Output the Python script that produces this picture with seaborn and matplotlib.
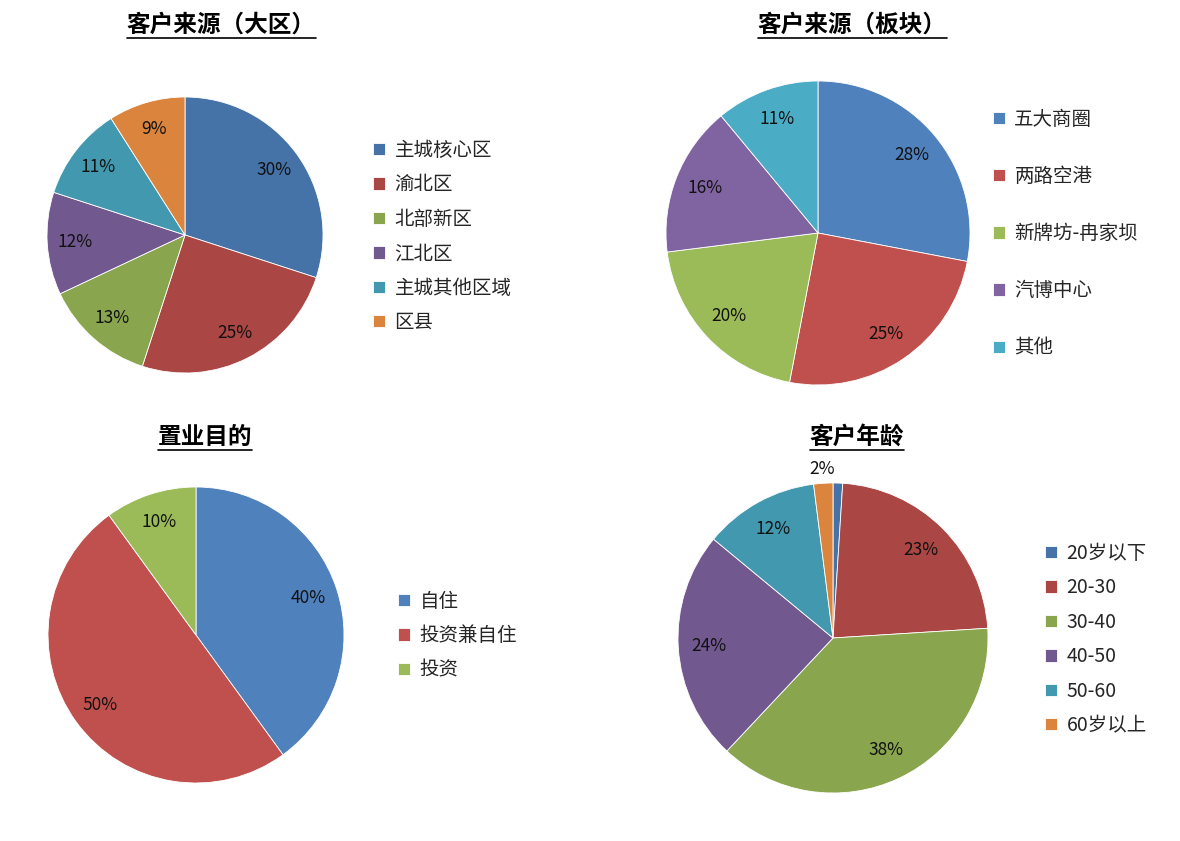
import matplotlib
matplotlib.use("Agg")
import matplotlib.pyplot as plt
import seaborn as sns
from matplotlib.lines import Line2D
import numpy as np

# 数据
region_labels = ["主城核心区", "渝北区", "北部新区", "江北区", "主城其他区域", "区县"]
region_values = [30, 25, 13, 12, 11, 9]

block_labels = ["五大商圈", "两路空港", "新牌坊-冉家坝", "汽博中心", "其他"]
block_values = [28, 25, 20, 16, 11]

purpose_labels = ["自住", "投资兼自住", "投资"]
purpose_values = [40, 50, 10]

age_labels = ["20岁以下", "20-30", "30-40", "40-50", "50-60", "60岁以上"]
age_values = [1, 23, 38, 24, 12, 2]

dark_pal = sns.color_palette(["#4572A7", "#AA4643", "#89A54E", "#71588F", "#4198AF", "#DB843D"])
light_pal = sns.color_palette(["#4F81BD", "#C0504D", "#9BBB59", "#8064A2", "#4BACC6", "#F79646"])

sns.set_theme(style="white")
plt.rcParams["font.family"] = ["Noto Sans CJK SC", "DejaVu Sans"]

W, H = 1180, 841
fig = plt.figure(figsize=(W / 100, H / 100), dpi=100)


def pie_axes(cx, cy, r):
    return fig.add_axes([(cx - r) / W, (H - cy - r) / H, 2 * r / W, 2 * r / H])


def draw_pie(cx, cy, r, values, labels, colors, legend_xy, spacing, outside_small=False):
    ax = pie_axes(cx, cy, r)
    wedges, _ = ax.pie(values, colors=colors, startangle=90, counterclock=False,
                       wedgeprops=dict(edgecolor="white", linewidth=0.6))
    ax.set_xlim(-1, 1)
    ax.set_ylim(-1, 1)
    ax.set_aspect("equal")
    ax.axis("off")
    for w, v in zip(wedges, values):
        ang = np.deg2rad((w.theta1 + w.theta2) / 2)
        if v < 2:
            continue
        d = 0.8
        if outside_small and v <= 2:
            d = 1.09
        ax.text(d * np.cos(ang), d * np.sin(ang), f"{v}%", ha="center", va="center",
                fontsize=12.5, color="#111111", clip_on=False)
    fig.legend(wedges, labels, loc="upper left",
               bbox_to_anchor=(legend_xy[0] / W, 1 - legend_xy[1] / H),
               frameon=False, fontsize=14, handlelength=0.6, handleheight=0.6,
               handletextpad=0.5, labelspacing=spacing, borderaxespad=0, borderpad=0)


def title(x, y, s):
    t = fig.text(x / W, 1 - y / H, s, ha="center", va="center", fontsize=17,
                 fontweight="bold", color="black")
    return t


draw_pie(185, 235, 138, region_values, region_labels, dark_pal, (373, 140), 0.69)
draw_pie(818, 233, 152, block_values, block_labels, light_pal[:5], (993, 109), 1.86)
draw_pie(196, 635, 148, purpose_values, purpose_labels, light_pal[:3], (398, 591), 0.69)
draw_pie(833, 638, 155, age_values, age_labels, dark_pal, (1045, 543), 0.69, outside_small=True)

titles = [title(221, 25, "客户来源（大区）"), title(852, 25, "客户来源（板块）"),
          title(205, 437, "置业目的"), title(857, 437, "客户年龄")]

fig.canvas.draw()
for t in titles:
    bb = t.get_window_extent()
    y = (bb.y0 - 1) / H
    fig.add_artist(Line2D([bb.x0 / W, bb.x1 / W], [y, y], color="black", lw=1.2))

fig.savefig("out.png", dpi=100, facecolor="white")
